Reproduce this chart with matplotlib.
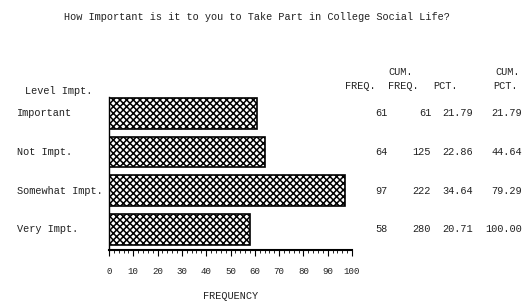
import matplotlib
matplotlib.use("Agg")
from matplotlib import pyplot as plt
from matplotlib import transforms
import numpy

# data
levels = ["Important", "Not Impt.", "Somewhat Impt.", "Very Impt."]
freq = [61, 64, 97, 58]
cum_freq = [61, 125, 222, 280]
pct = [21.79, 22.86, 34.64, 20.71]
cum_pct = [21.79, 44.64, 79.29, 100.00]
xticks = list(range(0, 101, 10))

plt.rcParams["font.family"] = "Liberation Mono"
plt.rcParams["hatch.linewidth"] = 1.1
fs = 7.4
col = "#222222"

W, H = 524, 301
fig = plt.figure(figsize=(W / 100, H / 100), dpi=100)
ax = fig.add_axes([109 / W, 51 / H, 243 / W, 153 / H])

y = numpy.arange(len(levels))
ax.barh(y, freq, height=0.8, color="white", edgecolor="black",
        hatch="xxxxx", linewidth=1.2)
ax.set_xlim(0, 100)
ax.set_ylim(3.53, -0.42)

for s in ["top", "right"]:
    ax.spines[s].set_visible(False)
ax.spines["left"].set_linewidth(1.0)
ax.spines["bottom"].set_linewidth(1.5)

ax.set_yticks([])
ax.set_xticks(xticks)
ax.set_xticks(range(0, 101, 2), minor=True)
ax.tick_params(axis="x", which="major", length=4.3, width=0.8, direction="out",
               pad=8, labelsize=6.6, labelcolor=col)
ax.tick_params(axis="x", which="minor", length=2.2, width=0.6, direction="out")
ax.set_xlabel("FREQUENCY", fontsize=fs, labelpad=11, color=col)

# row labels and table on the right
tr = transforms.blended_transform_factory(fig.transFigure, ax.transData)
for i, name in enumerate(levels):
    kw = dict(transform=tr, fontsize=fs, va="center", color=col)
    fig.text(17 / W, i, name, ha="left", **kw)
    fig.text(388 / W, i, "%d" % freq[i], ha="right", **kw)
    fig.text(431 / W, i, "%d" % cum_freq[i], ha="right", **kw)
    fig.text(473 / W, i, "%.2f" % pct[i], ha="right", **kw)
    fig.text(522 / W, i, "%.2f" % cum_pct[i], ha="right", **kw)

def px(x, yy, s, **kw):
    fig.text(x / W, 1 - yy / H, s, fontsize=fs, va="center", color=col, **kw)

px(25, 91, "Level Impt.")
px(376, 86, "FREQ.", ha="right")
px(413, 72, "CUM.", ha="right")
px(419, 86, "FREQ.", ha="right")
px(458, 86, "PCT.", ha="right")
px(520, 72, "CUM.", ha="right")
px(518, 86, "PCT.", ha="right")
px(257, 17, "How Important is it to you to Take Part in College Social Life?", ha="center")

fig.savefig("out.png", dpi=100)
